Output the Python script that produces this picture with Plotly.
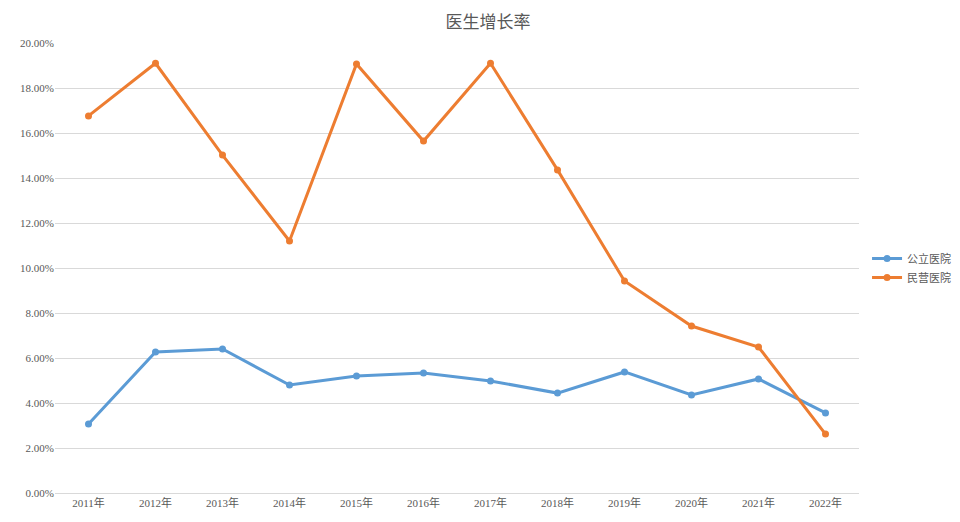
import plotly.graph_objects as go

years = ["2011年", "2012年", "2013年", "2014年", "2015年", "2016年",
         "2017年", "2018年", "2019年", "2020年", "2021年", "2022年"]
public = [3.07, 6.27, 6.40, 4.80, 5.20, 5.33, 4.98, 4.44, 5.38, 4.36, 5.07, 3.56]
private = [16.76, 19.10, 15.02, 11.20, 19.07, 15.64, 19.10, 14.36, 9.42, 7.42, 6.49, 2.62]

font_cn = "Noto Sans CJK SC"
font_num = "Liberation Serif, Noto Sans CJK SC"

fig = go.Figure()
fig.add_trace(go.Scatter(x=years, y=[v / 100 for v in public], name="公立医院",
                         mode="lines+markers", line=dict(color="#5B9BD5", width=3),
                         marker=dict(size=7)))
fig.add_trace(go.Scatter(x=years, y=[v / 100 for v in private], name="民营医院",
                         mode="lines+markers", line=dict(color="#ED7D31", width=3),
                         marker=dict(size=7)))

fig.update_layout(
    width=960, height=522,
    title=dict(text="医生增长率", x=0.5, xanchor="center", y=0.985,
               font=dict(family=font_cn, size=17, color="#595959")),
    margin=dict(l=42, r=106, t=35, b=37),
    plot_bgcolor="white", paper_bgcolor="white",
    legend=dict(x=1.01, y=0.5, yanchor="middle", xanchor="left",
                font=dict(family=font_cn, size=11, color="#595959")),
    xaxis=dict(type="category", range=[-0.5, 11.5], showgrid=False,
               showline=True, linecolor="#D9D9D9",
               tickfont=dict(family=font_num, size=11, color="#595959")),
    yaxis=dict(range=[0, 0.2], dtick=0.02, tickformat=".2%", gridcolor="#D9D9D9",
               zeroline=False, tickfont=dict(family=font_num, size=11, color="#595959")),
)

fig.write_html("out.html")
